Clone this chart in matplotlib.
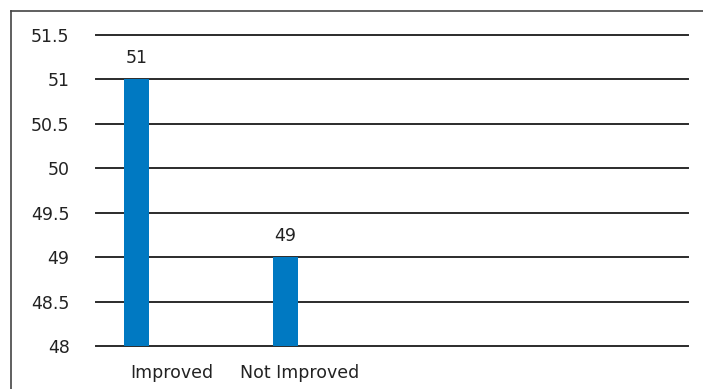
import matplotlib.pyplot as plt
from matplotlib.lines import Line2D

# --- Data ---
categories = ['Improved', 'Not Improved']
values = [51, 49]
yticks = [48, 48.5, 49, 49.5, 50, 50.5, 51, 51.5]
ytick_labels = ['48', '48.5', '49', '49.5', '50', '50.5', '51', '51.5']

bar_color = '#0079C2'
grid_color = '#2b2b2b'
font = 'DejaVu Sans'

fig = plt.figure(figsize=(7.03, 3.89), dpi=100)
W, H = 703, 389
ax = fig.add_axes([96 / W, (H - 346) / H, (688 - 96) / W, (346 - 35) / H])

x = [0, 1]
ax.bar(x, values, width=0.17, color=bar_color, zorder=3, bottom=0)
ax.set_xlim(-0.272, 3.70)
ax.set_ylim(48, 51.5)

# horizontal grid lines
for yt in yticks:
    ax.axhline(yt, color=grid_color, lw=1.4, zorder=1, clip_on=False)

# value labels
for xi, v in zip(x, values):
    ax.annotate(f'{v}', (xi, v), xytext=(0, 9), textcoords='offset points',
                ha='center', va='bottom', fontsize=12.5, family=font, color='#222222')

ax.set_yticks(yticks)
ax.set_yticklabels(ytick_labels, fontsize=12.5, family=font, color='#222222')
ax.tick_params(axis='y', length=0, pad=19)

# category labels (slightly offset to the right of the bars, as in the original)
ax.set_xticks([0.238, 1.097])
ax.set_xticklabels(categories, fontsize=12.5, family=font, color='#222222')
ax.tick_params(axis='x', length=0, pad=13)

for s in ax.spines.values():
    s.set_visible(False)

# outer frame (top and left visible)
fig.add_artist(Line2D([11 / W, 1], [1 - 11 / H, 1 - 11 / H], color='#444444', lw=1.2))
fig.add_artist(Line2D([11 / W, 11 / W], [0, 1 - 11 / H], color='#444444', lw=1.2))

fig.savefig('out.png', dpi=100)
